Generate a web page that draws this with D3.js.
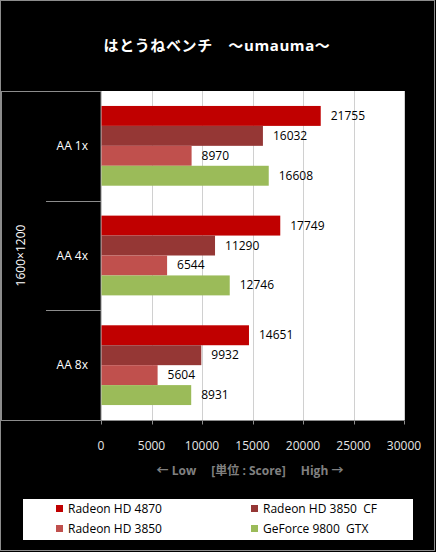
<!DOCTYPE html>
<html>
<head>
<meta charset="utf-8">
<script src="https://cdn.jsdelivr.net/npm/d3@7"></script>
<style>
  html, body { margin: 0; padding: 0; background: #000; }
  svg { display: block; font-family: "Open Sans", "Noto Sans CJK JP", sans-serif; }
</style>
</head>
<body>
<div id="chart"></div>
<script>
// hatoune bench chart – grouped horizontal bars

const categories = ["AA 1x", "AA 4x", "AA 8x"];
const seriesNames = ["Radeon HD 4870", "Radeon HD 3850  CF", "Radeon HD 3850", "GeForce 9800  GTX"];
const seriesColors = ["#c00000", "#953735", "#c0504d", "#9bbb59"];
const hd4870 = [21755, 17749, 14651];
const hd3850cf = [16032, 11290, 9932];
const hd3850 = [8970, 6544, 5604];
const gf9800 = [16608, 12746, 8931];
const xTicks = [0, 5000, 10000, 15000, 20000, 25000, 30000];

const allSeries = [hd4870, hd3850cf, hd3850, gf9800];

const W = 436, H = 552;
const plot = { left: 101, right: 404, top: 91, bottom: 420 };

const svg = d3.select("#chart").append("svg")
    .attr("width", W)
    .attr("height", H);

svg.append("rect")
    .attr("x", 0).attr("y", 0).attr("width", W).attr("height", H)
    .attr("fill", "#000");

// outer border
svg.append("rect")
    .attr("x", 0.5).attr("y", 0.5).attr("width", 434).attr("height", 550)
    .attr("fill", "none").attr("stroke", "#8c8c8c");

// title
svg.append("text")
    .attr("x", 217).attr("y", 51)
    .attr("text-anchor", "middle")
    .attr("fill", "#fff")
    .style("font-size", "15px")
    .style("font-weight", "bold")
    .style("letter-spacing", "0.6px")
    .text("はとうねベンチ　～umauma～");

// scales
const x = d3.scaleLinear().domain([0, 30000]).range([plot.left, plot.right]);
const y = d3.scaleBand().domain(categories).range([plot.top, plot.bottom]);
const inner = d3.scaleBand().domain(d3.range(4))
    .range([0, y.bandwidth()])
    .paddingOuter(0.75);

// plot area
svg.append("rect")
    .attr("x", plot.left).attr("y", plot.top)
    .attr("width", plot.right - plot.left).attr("height", plot.bottom - plot.top)
    .attr("fill", "#fff");

// gridlines
svg.append("g").selectAll("line")
    .data(xTicks.slice(1))
    .join("line")
    .attr("x1", d => Math.round(x(d)) + 0.5).attr("x2", d => Math.round(x(d)) + 0.5)
    .attr("y1", plot.top).attr("y2", plot.bottom)
    .attr("stroke", "#d0d0d0");

// left category box
svg.append("rect")
    .attr("x", 1.5).attr("y", plot.top + 0.5)
    .attr("width", plot.left - 1.5).attr("height", plot.bottom - plot.top)
    .attr("fill", "#000").attr("stroke", "#8c8c8c");

svg.append("g").selectAll("line")
    .data(categories.slice(1))
    .join("line")
    .attr("x1", 46).attr("x2", plot.left)
    .attr("y1", d => Math.round(y(d)) + 0.5).attr("y2", d => Math.round(y(d)) + 0.5)
    .attr("stroke", "#8c8c8c");

svg.append("text")
    .attr("transform", `translate(25,${(plot.top + plot.bottom) / 2}) rotate(-90)`)
    .attr("text-anchor", "middle")
    .attr("fill", "#fff")
    .style("font-size", "12px")
    .text("1600×1200");

svg.append("g").selectAll("text")
    .data(categories)
    .join("text")
    .attr("x", 88)
    .attr("y", d => y(d) + y.bandwidth() / 2 + 4)
    .attr("text-anchor", "end")
    .attr("fill", "#fff")
    .style("font-size", "12px")
    .text(d => d);

// bars
const rows = [];
categories.forEach((c, i) => {
    allSeries.forEach((s, j) => rows.push({ cat: c, si: j, value: s[i] }));
});

svg.append("g").selectAll("rect")
    .data(rows)
    .join("rect")
    .attr("x", plot.left + 0.5)
    .attr("y", d => y(d.cat) + inner(d.si))
    .attr("width", d => x(d.value) - plot.left - 0.5)
    .attr("height", inner.bandwidth())
    .attr("fill", d => seriesColors[d.si]);

svg.append("g").selectAll("text")
    .data(rows)
    .join("text")
    .attr("x", d => x(d.value) + 10)
    .attr("y", d => y(d.cat) + inner(d.si) + inner.bandwidth() / 2 + 4)
    .attr("fill", "#000")
    .style("font-size", "12px")
    .text(d => d.value);

// x axis
const axis = svg.append("g")
    .attr("transform", `translate(0,${plot.bottom + 0.5})`);
axis.append("line")
    .attr("x1", 1).attr("x2", plot.right + 0.5)
    .attr("stroke", "#8c8c8c");
axis.selectAll(".tk")
    .data(xTicks)
    .join("line")
    .attr("class", "tk")
    .attr("x1", d => Math.round(x(d)) + 0.5).attr("x2", d => Math.round(x(d)) + 0.5)
    .attr("y1", 0).attr("y2", 4)
    .attr("stroke", "#8c8c8c");
axis.selectAll("text")
    .data(xTicks)
    .join("text")
    .attr("x", d => x(d))
    .attr("y", 29)
    .attr("text-anchor", "middle")
    .attr("fill", "#e6e6e6")
    .style("font-size", "12px")
    .text(d => d);

svg.append("text")
    .attr("x", 250).attr("y", 475)
    .attr("text-anchor", "middle")
    .attr("fill", "#808080")
    .style("font-size", "12px")
    .style("font-weight", "bold")
    .text("← Low　 [単位 : Score]　 High →");

// legend
svg.append("rect")
    .attr("x", 23).attr("y", 499)
    .attr("width", 390).attr("height", 41)
    .attr("fill", "#fff");

const legend = svg.append("g").selectAll("g")
    .data(seriesNames)
    .join("g")
    .attr("transform", (d, i) => `translate(${i % 2 ? 251 : 56},${i < 2 ? 509 : 529})`);
legend.append("rect")
    .attr("x", 0).attr("y", -4)
    .attr("width", 7).attr("height", 7)
    .attr("fill", (d, i) => seriesColors[i]);
legend.append("text")
    .attr("x", 12).attr("y", 4)
    .attr("fill", "#000")
    .style("font-size", "12px")
    .style("white-space", "pre")
    .text(d => d);
</script>
</body>
</html>
